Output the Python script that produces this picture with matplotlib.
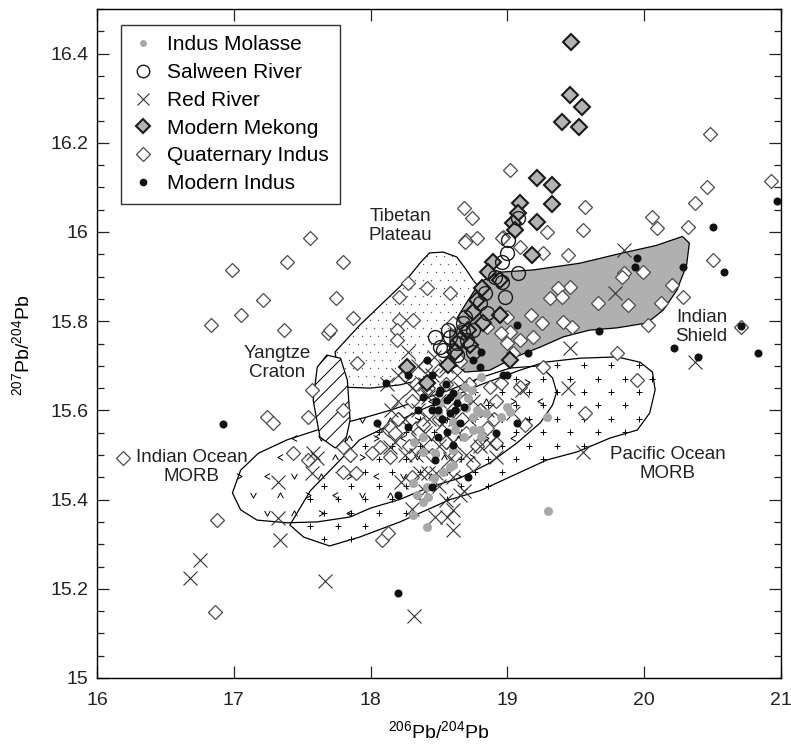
import matplotlib
matplotlib.use("Agg")
import matplotlib.pyplot as plt
import numpy as np
from matplotlib.patches import Polygon
from matplotlib.path import Path
from matplotlib.ticker import MultipleLocator, FuncFormatter
from matplotlib.lines import Line2D

plt.rcParams['font.family'] = ['Liberation Sans', 'DejaVu Sans']
plt.rcParams['mathtext.fontset'] = 'custom'
plt.rcParams['mathtext.rm'] = 'Liberation Sans'
plt.rcParams['mathtext.it'] = 'Liberation Sans:italic'
plt.rcParams['mathtext.bf'] = 'Liberation Sans:bold'
plt.rcParams['hatch.linewidth'] = 0.7

# ---- reference fields (206Pb/204Pb, 207Pb/204Pb outlines) ----
shield_x = [18.58, 18.69, 18.80, 18.95, 19.19, 19.53, 19.80, 20.09, 20.28, 20.33, 20.31,
            20.24, 20.14, 20.02, 19.80, 19.60, 19.41, 19.24, 19.06, 18.87, 18.69, 18.58]
shield_y = [15.78, 15.836, 15.888, 15.91, 15.915, 15.93, 15.95, 15.97, 15.99, 15.975, 15.926,
            15.87, 15.825, 15.796, 15.785, 15.78, 15.765, 15.742, 15.72, 15.69, 15.686, 15.713]

tibet_x = [17.74, 17.92, 18.11, 18.25, 18.36, 18.43, 18.53, 18.63, 18.70, 18.75, 18.84,
           18.87, 18.80, 18.65, 18.43, 18.21, 18.00, 17.81, 17.76]
tibet_y = [15.731, 15.791, 15.847, 15.888, 15.93, 15.953, 15.955, 15.944, 15.915, 15.892, 15.859,
           15.803, 15.747, 15.702, 15.673, 15.657, 15.65, 15.652, 15.69]

yangtze_x = [17.68, 17.78, 17.83, 17.85, 17.81, 17.74, 17.63, 17.58, 17.61]
yangtze_y = [15.724, 15.717, 15.668, 15.578, 15.522, 15.516, 15.54, 15.623, 15.697]

indian_morb_x = [16.99, 17.05, 17.18, 17.39, 17.61, 17.81, 17.97, 18.14, 18.36, 18.58, 18.80,
                 19.02, 19.24, 19.33, 19.36, 19.33, 19.24, 19.07, 18.87, 18.65, 18.43, 18.21,
                 18.00, 17.85, 17.61, 17.39, 17.17, 17.05]
indian_morb_y = [15.415, 15.466, 15.504, 15.534, 15.556, 15.572, 15.585, 15.60, 15.623, 15.646, 15.673,
                 15.695, 15.70, 15.673, 15.641, 15.612, 15.572, 15.527, 15.482, 15.448, 15.428, 15.40,
                 15.381, 15.361, 15.35, 15.348, 15.354, 15.377]

pacific_morb_x = [17.41, 17.51, 17.70, 17.92, 18.215, 18.58, 18.80, 19.02, 19.29, 19.51, 19.75,
                  19.95, 20.04, 20.08, 20.06, 19.97, 19.80, 19.53, 19.27, 19.09, 18.80, 18.36,
                  17.92, 17.56]
pacific_morb_y = [15.343, 15.316, 15.296, 15.316, 15.35, 15.40, 15.42, 15.451, 15.489, 15.507, 15.538,
                  15.556, 15.594, 15.646, 15.686, 15.708, 15.72, 15.717, 15.708, 15.69, 15.657, 15.60,
                  15.534, 15.42]

# ---- samples ----
quat_x = [16.19, 17.24, 17.29, 16.88, 16.86, 17.57, 17.54, 17.43, 17.54, 17.80, 17.80, 17.80,
          17.37, 17.69, 19.02, 18.68, 18.74, 18.70, 18.78, 19.57, 19.55, 19.29, 18.97, 19.44,
          17.80, 19.09, 19.26, 19.85, 20.46, 20.37, 20.06, 20.09, 20.32, 18.69, 18.96, 20.50,
          19.99, 19.84, 20.20, 20.28, 19.46, 19.37, 19.31, 19.40, 19.66, 19.88, 20.12, 19.17,
          19.25, 19.41, 19.47, 20.03, 20.71, 19.80, 19.95, 19.09, 19.19, 19.00, 18.58, 18.60,
          19.02, 19.04, 19.26, 17.75, 17.87, 17.70, 18.21, 18.27, 18.41, 19.09, 17.85, 17.89,
          18.08, 18.13, 18.21, 18.31, 18.19, 18.19, 17.90, 18.85, 18.95, 19.00, 18.87, 18.95,
          18.92, 18.07, 18.14, 18.14, 18.01, 19.57, 19.13, 20.48, 20.93,
          18.30, 18.35, 18.45, 18.20, 18.50, 18.60, 18.70, 18.25, 18.40, 18.55, 18.65, 18.80,
          18.90, 18.30, 18.75,
          18.42, 18.28, 18.38, 18.55, 18.62, 18.68, 18.72, 18.85, 18.18, 18.33, 18.50, 18.78, 18.92,
          16.99, 17.21, 16.83, 17.05, 17.39, 17.56]
quat_y = [15.493, 15.585, 15.572, 15.354, 15.148, 15.646, 15.585, 15.504, 15.489, 15.601, 15.518, 15.462,
          15.78, 15.773, 16.139, 16.054, 16.031, 15.982, 15.986, 16.056, 16.004, 16.00, 15.989, 15.948,
          15.933, 15.966, 15.953, 15.908, 16.101, 16.065, 16.034, 16.009, 16.011, 15.978, 15.986, 15.937,
          15.91, 15.899, 15.881, 15.854, 15.877, 15.874, 15.852, 15.854, 15.841, 15.836, 15.841, 15.814,
          15.796, 15.798, 15.787, 15.791, 15.787, 15.729, 15.668, 15.758, 15.765, 15.751, 15.863, 15.796,
          15.776, 15.729, 15.697, 15.852, 15.807, 15.78, 15.854, 15.886, 15.874, 15.652, 15.50, 15.46,
          15.309, 15.325, 15.803, 15.803, 15.78, 15.758, 15.706, 15.787, 15.773, 15.809, 15.652, 15.661,
          15.527, 15.518, 15.495, 15.563, 15.504, 15.594, 15.567, 16.22, 16.115,
          15.62, 15.55, 15.50, 15.58, 15.58, 15.60, 15.55, 15.68, 15.70, 15.66, 15.71, 15.60,
          15.58, 15.45, 15.48,
          15.65, 15.52, 15.57, 15.53, 15.50, 15.62, 15.66, 15.56, 15.55, 15.66, 15.69, 15.52, 15.62,
          15.915, 15.847, 15.791, 15.814, 15.933, 15.986]

mekong_x = [19.465, 19.458, 19.545, 19.40, 19.52, 19.216, 19.326, 19.326, 19.092, 19.078, 19.04,
            19.216, 19.056, 19.18, 18.895, 18.858, 18.946, 18.814, 18.778, 18.749, 18.946, 18.82,
            18.712, 18.654, 18.617, 19.02, 18.566, 18.727, 18.266, 18.412]
mekong_y = [16.426, 16.307, 16.28, 16.247, 16.235, 16.121, 16.105, 16.063, 16.065, 16.043, 16.02,
            16.022, 16.004, 15.948, 15.933, 15.91, 15.892, 15.874, 15.847, 15.82, 15.814, 15.796,
            15.78, 15.758, 15.731, 15.713, 15.702, 15.747, 15.697, 15.661]

salween_x = [19.078, 19.004, 18.997, 18.96, 18.91, 19.078, 18.983, 18.96, 18.836, 18.69, 18.675,
             18.749, 18.53, 18.63, 18.47, 18.507, 18.58, 18.705, 18.749, 18.63, 18.675, 18.80,
             18.85, 18.566]
salween_y = [16.031, 15.982, 15.953, 15.933, 15.899, 15.908, 15.854, 15.888, 15.863, 15.809, 15.776,
             15.78, 15.735, 15.751, 15.765, 15.742, 15.765, 15.758, 15.731, 15.724, 15.796, 15.841,
             15.818, 15.78]

red_x = [16.75, 16.68, 17.34, 17.32, 17.32, 17.67, 17.58, 17.61, 17.57, 19.85, 19.79, 19.46,
         20.37, 19.44, 19.55, 18.60, 18.60, 18.65, 18.47, 18.42, 19.04, 19.11, 18.87, 18.92,
         18.08, 18.14, 18.32,
         18.30, 18.35, 18.40, 18.45, 18.50, 18.55, 18.60, 18.25, 18.20, 18.70, 18.40, 18.65,
         18.35, 18.28, 18.48, 18.22, 18.55, 18.15, 18.75, 18.42, 18.52, 18.33, 18.60, 18.46,
         18.20, 18.25, 18.38, 18.43, 18.50, 18.58, 18.62, 18.68, 18.72, 18.80, 18.85, 18.30,
         18.18, 18.12, 18.56, 18.40, 18.50, 18.27, 18.63, 18.36]
red_y = [15.265, 15.224, 15.309, 15.359, 15.439, 15.217, 15.504, 15.493, 15.46, 15.96, 15.863, 15.74,
         15.708, 15.65, 15.507, 15.377, 15.332, 15.41, 15.361, 15.46, 15.594, 15.646, 15.527, 15.495,
         15.556, 15.518, 15.14,
         15.65, 15.60, 15.55, 15.68, 15.52, 15.70, 15.45, 15.50, 15.62, 15.50, 15.42, 15.65,
         15.70, 15.56, 15.46, 15.44, 15.40, 15.60, 15.62, 15.63, 15.57, 15.50, 15.53, 15.72,
         15.68, 15.58, 15.52, 15.58, 15.62, 15.49, 15.58, 15.42, 15.58, 15.52, 15.60, 15.38,
         15.53, 15.66, 15.36, 15.66, 15.43, 15.73, 15.68, 15.46]

molasse_x = [18.81, 18.69, 18.74, 18.63, 18.71, 18.51, 18.49, 18.70, 18.78, 18.84, 18.75, 19.00,
             19.02, 18.60, 18.62, 18.75, 18.80, 18.68, 18.95, 18.81, 18.38, 18.32, 18.38, 18.47,
             18.60, 18.60, 18.53, 18.46, 18.41, 18.31, 18.34, 18.42, 18.38, 18.31, 18.41, 19.30,
             19.29, 18.58, 18.79]
molasse_y = [15.675, 15.652, 15.646, 15.634, 15.628, 15.617, 15.596, 15.605, 15.601, 15.594, 15.585, 15.608,
             15.596, 15.574, 15.556, 15.556, 15.556, 15.54, 15.585, 15.54, 15.54, 15.529, 15.507, 15.504,
             15.511, 15.478, 15.462, 15.448, 15.428, 15.437, 15.41, 15.406, 15.395, 15.365, 15.339, 15.374,
             15.585, 15.473, 15.596]

indus_x = [16.92, 20.97, 20.50, 19.95, 19.93, 20.28, 20.58, 19.07, 19.67, 19.15, 20.22, 20.39,
           20.83, 20.71, 19.00, 18.81, 18.41, 18.27, 18.11, 18.45, 18.75, 18.80, 18.97, 18.38,
           18.51, 18.56, 18.63, 18.35, 18.49, 18.58, 18.27, 18.05, 18.49, 18.56, 18.60, 18.92,
           19.07, 18.47, 18.71, 18.20, 18.45, 18.68, 18.65, 18.20,
           18.50, 18.55, 18.45, 18.60, 18.52, 18.58, 18.48, 18.62]
indus_y = [15.569, 16.069, 16.011, 15.942, 15.921, 15.921, 15.91, 15.791, 15.778, 15.729, 15.74, 15.72,
           15.729, 15.789, 15.679, 15.731, 15.713, 15.679, 15.661, 15.679, 15.713, 15.697, 15.679, 15.63,
           15.646, 15.623, 15.617, 15.601, 15.601, 15.594, 15.563, 15.572, 15.54, 15.552, 15.522, 15.549,
           15.572, 15.489, 15.451, 15.41, 15.428, 15.608, 15.572, 15.19,
           15.64, 15.66, 15.60, 15.64, 15.58, 15.63, 15.62, 15.60]


def pattern_points(px, py, dx, dy):
    """staggered grid of positions inside a closed outline, used as fill pattern"""
    path = Path(np.column_stack([px, py]))
    pts = []
    for i, yy in enumerate(np.arange(min(py) + dy / 2, max(py), dy)):
        off = dx / 2 if i % 2 else 0.0
        for xx in np.arange(min(px) + off + dx / 4, max(px), dx):
            pts.append((xx, yy))
    pts = np.array(pts)
    return pts[path.contains_points(pts)]


def chevron(angle):
    a = np.deg2rad(angle)
    v = np.array([(-0.5, 0.45), (0.0, -0.45), (0.5, 0.45)])
    rot = np.array([[np.cos(a), -np.sin(a)], [np.sin(a), np.cos(a)]])
    return Path(v @ rot.T, [Path.MOVETO, Path.LINETO, Path.LINETO])


fig = plt.figure(figsize=(7.91, 7.45), dpi=100)
ax = fig.add_axes([97 / 791, 67 / 745, 684 / 791, 669 / 745])

# fields
ax.add_patch(Polygon(np.column_stack([pacific_morb_x, pacific_morb_y]), closed=True,
                     facecolor='white', edgecolor='black', lw=0.9, zorder=1))
ax.add_patch(Polygon(np.column_stack([indian_morb_x, indian_morb_y]), closed=True,
                     facecolor='none', edgecolor='black', lw=0.9, zorder=1.2))
ax.add_patch(Polygon(np.column_stack([tibet_x, tibet_y]), closed=True,
                     facecolor='white', edgecolor='black', lw=0.9, zorder=1.1))
ax.add_patch(Polygon(np.column_stack([yangtze_x, yangtze_y]), closed=True,
                     facecolor='white', edgecolor='black', lw=0.9, hatch='//', zorder=1.3))
ax.add_patch(Polygon(np.column_stack([shield_x, shield_y]), closed=True,
                     facecolor='#b0b0b0', edgecolor='black', lw=0.9, zorder=1.4))

# fill patterns
pp = pattern_points(pacific_morb_x, pacific_morb_y, 0.2, 0.03)
ax.plot(pp[:, 0], pp[:, 1], ls='none', marker='+', ms=5, mew=0.7, color='black', zorder=1.05)

ip = pattern_points(indian_morb_x, indian_morb_y, 0.2, 0.042)
for k, ang in enumerate([0, 180, 90, 270]):
    sel = ip[k::4]
    ax.plot(sel[:, 0], sel[:, 1], ls='none', marker=chevron(ang), ms=4.2, mew=0.7,
            color='black', fillstyle='none', zorder=1.25)

tp = pattern_points(tibet_x, tibet_y, 0.06, 0.018)
ax.plot(tp[:, 0], tp[:, 1], ls='none', marker='o', ms=1.0, mew=0, color='#555555', zorder=1.15)

# samples
ax.plot(quat_x, quat_y, ls='none', marker='D', ms=7.6, mfc='white', mec='#4a4a4a', mew=0.9, zorder=3)
ax.plot(red_x, red_y, ls='none', marker='x', ms=10, mew=0.8, color='#333333', zorder=3.2)
ax.plot(mekong_x, mekong_y, ls='none', marker='D', ms=8.2, mfc='#b3b3b3', mec='#1a1a1a', mew=1.5, zorder=3.4)
ax.plot(salween_x, salween_y, ls='none', marker='o', ms=10, mfc='none', mec='#1a1a1a', mew=1.0, zorder=3.6)
ax.plot(molasse_x, molasse_y, ls='none', marker='o', ms=6.5, mfc='#a8a8a8', mec='none', zorder=3.8)
ax.plot(indus_x, indus_y, ls='none', marker='o', ms=5.8, mfc='#111111', mec='none', zorder=4)

# field labels
lab = dict(fontsize=13.5, ha='center', va='center', color='#222222', linespacing=1.15, zorder=5)
ax.text(18.22, 16.013, 'Tibetan\nPlateau', **lab)
ax.text(17.32, 15.706, 'Yangtze\nCraton', **lab)
ax.text(16.69, 15.473, 'Indian Ocean\nMORB', **lab)
ax.text(20.17, 15.48, 'Pacific Ocean\nMORB', **lab)
ax.text(20.42, 15.787, 'Indian\nShield', **lab)

# legend
handles = [
    Line2D([], [], ls='none', marker='o', ms=5, mfc='#a8a8a8', mec='none'),
    Line2D([], [], ls='none', marker='o', ms=9, mfc='none', mec='#1a1a1a', mew=1.0),
    Line2D([], [], ls='none', marker='x', ms=9, mew=0.8, color='#333333'),
    Line2D([], [], ls='none', marker='D', ms=7.6, mfc='#b3b3b3', mec='#1a1a1a', mew=1.5),
    Line2D([], [], ls='none', marker='D', ms=7, mfc='white', mec='#4a4a4a', mew=0.9),
    Line2D([], [], ls='none', marker='o', ms=5.5, mfc='#111111', mec='none'),
]
labels = ['Indus Molasse', 'Salween River', 'Red River', 'Modern Mekong',
          'Quaternary Indus', 'Modern Indus']
leg = ax.legend(handles, labels, loc='upper left', bbox_to_anchor=(0.035, 0.976),
                borderaxespad=0, frameon=True, fancybox=False, edgecolor='black',
                fontsize=15, handlelength=1.15, handletextpad=0.58, labelspacing=0.42,
                borderpad=0.5)
leg.get_frame().set_linewidth(1.0)
leg.set_zorder(6)

# axes
ax.set_xlim(16, 21)
ax.set_ylim(15, 16.5)
ax.xaxis.set_major_locator(MultipleLocator(1))
ax.yaxis.set_major_locator(MultipleLocator(0.2))
ax.yaxis.set_minor_locator(MultipleLocator(0.05))
ax.yaxis.set_major_formatter(FuncFormatter(lambda v, p: '%g' % round(v, 2)))
ax.tick_params(which='both', direction='in', top=True, right=True, width=0.9,
               labelsize=14, colors='#222222')
ax.tick_params(which='major', length=8.5, pad=6)
ax.tick_params(which='minor', length=5)
ax.tick_params(axis='x', which='major', pad=10)
for s in ax.spines.values():
    s.set_linewidth(1.0)

fig.text(0.555, 0.018, r'$^{206}$Pb/$^{204}$Pb', ha='center', va='center', fontsize=14)
fig.text(0.028, 0.537, r'$^{207}$Pb/$^{204}$Pb', ha='center', va='center', fontsize=14,
         rotation=90)

fig.savefig('out.png', dpi=100)
